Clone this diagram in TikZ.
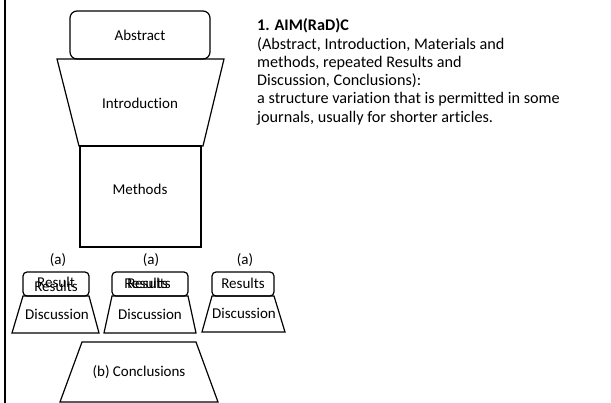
\documentclass[tikz,border=0pt]{standalone}
\usepackage{fontspec}
\setmainfont{Carlito}[Ligatures=NoCommon]
\begin{document}
\begin{tikzpicture}[x=1pt,y=-1pt,
  outl/.style={draw=black,line width=1.2pt,line join=miter},
  lbl/.style={font=\fontsize{15}{18.3}\selectfont,inner sep=0pt},
  desctext/.style={font=\fontsize{16.2}{18.3}\selectfont,inner sep=0pt}]
\useasboundingbox (0,0) rectangle (611,403);
% left border
\draw[line width=2pt] (5,0) -- (5,403);
% main stack
\draw[outl] (57,59) -- (224,59) -- (203,146) -- (79,146) -- cycle;
\draw[outl] (80,146) rectangle (201,247);
\draw[outl,rounded corners=7pt] (70,11) rectangle (210,59);
\node[lbl] (abs) at (140,35) {Abstract};
\node[lbl] (intro) at (140,103) {Introduction};
\node[lbl] (meth) at (140,189) {Methods};
% (a) labels
\node[lbl] (a1) at (58,260) {(a)};
\node[lbl] (a2) at (151,260) {(a)};
\node[lbl] (a3) at (245,260) {(a)};
% discussion trapezoids
\draw[outl] (23,296) -- (89,296) -- (99,333) -- (12,333) -- cycle;
\draw[outl] (112,296) -- (188,296) -- (196,333) -- (104,333) -- cycle;
\draw[outl] (212,296) -- (274,296) -- (285,332) -- (202,332) -- cycle;
% results boxes
\draw[outl,rounded corners=4pt] (23,272) rectangle (89,296);
\draw[outl,rounded corners=4pt] (112,272) rectangle (188,296);
\draw[outl,rounded corners=4pt] (212,272) rectangle (274,296);
\node[lbl] (r1a) at (56,282) {Result};
\node[lbl] (r1b) at (56,286) {Results};
\node[lbl] (r2a) at (146,283) {Results};
\node[lbl] (r2b) at (149,283) {Results};
\node[lbl] (r3) at (243,283) {Results};
\node[lbl] (d1) at (57,314) {Discussion};
\node[lbl] (d2) at (150,314) {Discussion};
\node[lbl] (d3) at (244,313) {Discussion};
% conclusions
\draw[outl] (82,342) -- (196,342) -- (218,402) -- (60,402) -- cycle;
\node[lbl] (conc) at (139,372) {(b) Conclusions};
% description
\node[desctext,anchor=north west,align=left] (desc) at (257,18.5) {\textbf{1. AIM(RaD)C}\\
(Abstract, Introduction, Materials and\\
methods, repeated Results and\\
Discussion, Conclusions):\\
a structure variation that is permitted in some\\
journals, usually for shorter articles.};
\end{tikzpicture}
\end{document}
